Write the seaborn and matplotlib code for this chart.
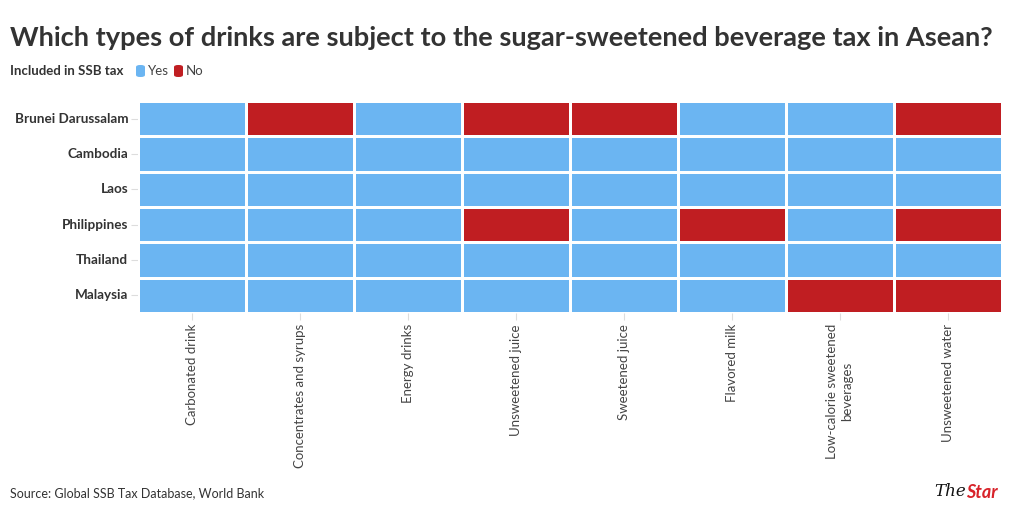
import pandas as pd
import numpy as np
import matplotlib
matplotlib.use('Agg')
import matplotlib.pyplot as plt
from matplotlib.colors import ListedColormap
from matplotlib.patches import FancyBboxPatch
import seaborn as sns

# --- Dados ---
paises = ['Brunei Darussalam', 'Cambodia', 'Laos', 'Philippines', 'Thailand', 'Malaysia']
bebidas = ['Carbonated drink', 'Concentrates and syrups', 'Energy drinks', 'Unsweetened juice',
           'Sweetened juice', 'Flavored milk', 'Low-calorie sweetened\nbeverages', 'Unsweetened water']
# 1 = Yes (incluído no imposto), 0 = No
brunei = [1, 0, 1, 0, 0, 1, 1, 0]
cambodia = [1, 1, 1, 1, 1, 1, 1, 1]
laos = [1, 1, 1, 1, 1, 1, 1, 1]
philippines = [1, 1, 1, 0, 1, 0, 1, 0]
thailand = [1, 1, 1, 1, 1, 1, 1, 1]
malaysia = [1, 1, 1, 1, 1, 1, 0, 0]

COR_SIM = '#6bb5f2'
COR_NAO = '#c01e22'

df = pd.DataFrame([brunei, cambodia, laos, philippines, thailand, malaysia],
                  index=paises, columns=bebidas)

sns.set_style('white')
plt.rcParams['font.family'] = ['Lato', 'DejaVu Sans']

fig = plt.figure(figsize=(10.2, 5.16), dpi=100)
ax = fig.add_axes([138 / 1020, 1 - 313 / 516, (1002 - 138) / 1020, (313 - 101) / 516])

sns.heatmap(df, ax=ax, cmap=ListedColormap([COR_NAO, COR_SIM]), vmin=0, vmax=1,
            cbar=False, linewidths=2, linecolor='white')

ax.set_xlabel('')
ax.set_ylabel('')
ax.set_yticklabels(paises, rotation=0, fontsize=9.7, fontweight='bold', color='#333333')
ax.set_xticklabels(bebidas, rotation=90, fontsize=9.5, color='#444444', va='top',
                   ha='center', linespacing=1.3)
ax.tick_params(axis='x', length=5, color='#dddddd', pad=3)
ax.tick_params(axis='y', length=5, color='#dddddd', pad=2)
ax.xaxis.set_ticks_position('bottom')
ax.yaxis.set_ticks_position('left')

# Título
fig.text(10 / 1020, 1 - 38 / 516, 'Which types of drinks are subject to the sugar-sweetened beverage tax in Asean?',
         fontsize=19.6, fontweight='bold', color='#333333', va='center', ha='left')

# Legenda
fig.text(10 / 1020, 1 - 71 / 516, 'Included in SSB tax', fontsize=9.5, fontweight='bold',
         color='#333333', va='center', ha='left')
for x0, cor, rotulo in [(136, COR_SIM, 'Yes'), (174, COR_NAO, 'No')]:
    fig.patches.append(FancyBboxPatch((x0 / 1020, 1 - 77 / 516), 9 / 1020, 12 / 516,
                                      boxstyle='round,pad=0,rounding_size=0.004',
                                      transform=fig.transFigure, facecolor=cor, edgecolor='none'))
    fig.text((x0 + 12) / 1020, 1 - 71 / 516, rotulo, fontsize=9.5, color='#444444',
             va='center', ha='left')

# Fonte
fig.text(10 / 1020, 1 - 493 / 516, 'Source: Global SSB Tax Database, World Bank', fontsize=9,
         color='#333333', va='center', ha='left')

# Logo
fig.text(966 / 1020, 1 - 492 / 516, 'The', fontsize=12, style='italic', family='DejaVu Serif',
         color='#111111', va='center', ha='right')
fig.text(966 / 1020, 1 - 492 / 516, 'Star', fontsize=13, style='italic', fontweight='bold',
         color='#d8232a', va='center', ha='left')

fig.savefig('out.png', dpi=100, facecolor='white')
